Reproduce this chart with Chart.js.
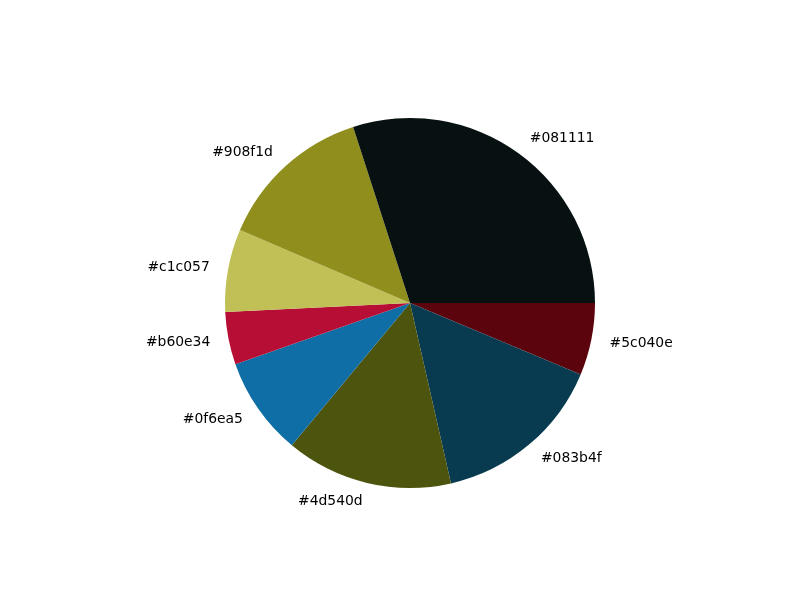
<!DOCTYPE html>
<html>
<head>
<meta charset="utf-8">
<script src="https://cdn.jsdelivr.net/npm/chart.js@4/dist/chart.umd.min.js"></script>
<style>
html,body{margin:0;padding:0;background:#ffffff;}
#wrap{width:800px;height:600px;}
</style>
</head>
<body>
<div id="wrap"><canvas id="c" width="800" height="600"></canvas></div>
<script>
// Order as drawn counter-clockwise from 3 o'clock (matplotlib order)
const categories = ["#081111", "#908f1d", "#c1c057", "#b60e34", "#0f6ea5", "#4d540d", "#083b4f", "#5c040e"];
const values = [107.9, 48.9, 26.0, 16.5, 31.0, 52.5, 54.5, 22.7];
const colors = ["#081111", "#908f1d", "#c1c057", "#b60e34", "#0f6ea5", "#4d540d", "#083b4f", "#5c040e"];

// Chart.js draws clockwise, so reverse to reproduce counter-clockwise layout
const labelsR = categories.slice().reverse();
const valuesR = values.slice().reverse();
const colorsR = colors.slice().reverse();

const outerLabels = {
  id: 'outerLabels',
  afterDatasetsDraw(chart) {
    const ctx = chart.ctx;
    const meta = chart.getDatasetMeta(0);
    ctx.save();
    ctx.font = '13.9px "DejaVu Sans"';
    ctx.fillStyle = '#000000';
    ctx.textBaseline = 'middle';
    meta.data.forEach((arc, i) => {
      const p = arc.getProps(['x', 'y', 'startAngle', 'endAngle', 'outerRadius'], true);
      const mid = (p.startAngle + p.endAngle) / 2;
      const r = p.outerRadius * 1.1;
      const lx = p.x + r * Math.cos(mid);
      const ly = p.y + r * Math.sin(mid);
      ctx.textAlign = Math.cos(mid) >= 0 ? 'left' : 'right';
      ctx.fillText(chart.data.labels[i], lx, ly);
    });
    ctx.restore();
  }
};

new Chart(document.getElementById('c'), {
  type: 'pie',
  data: {
    labels: labelsR,
    datasets: [{
      data: valuesR,
      backgroundColor: colorsR,
      borderWidth: 0
    }]
  },
  options: {
    responsive: false,
    animation: false,
    rotation: 90,
    layout: { padding: { top: 118, bottom: 112, left: 225, right: 205 } },
    plugins: {
      legend: { display: false },
      tooltip: { enabled: false }
    }
  },
  plugins: [outerLabels]
});
</script>
</body>
</html>
